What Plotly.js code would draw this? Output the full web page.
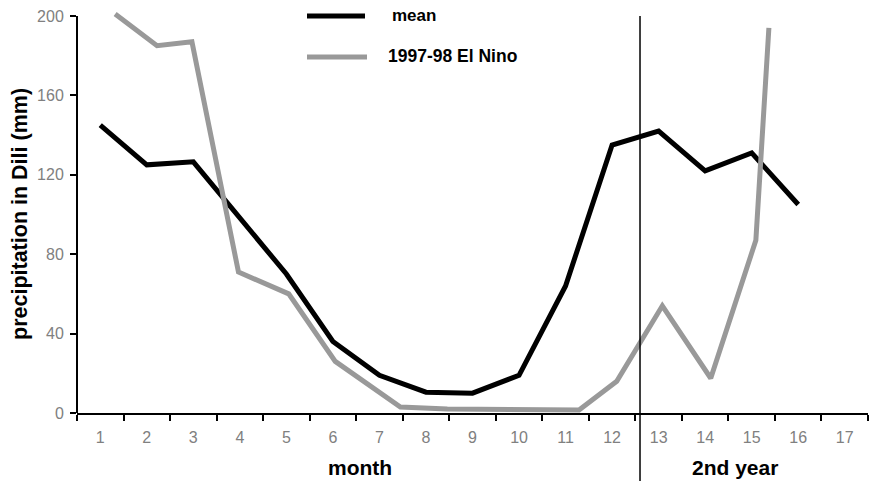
<!DOCTYPE html>
<html><head><meta charset="utf-8">
<script src="https://cdn.plot.ly/plotly-3.0.1.min.js"></script>
<style>html,body{margin:0;padding:0;background:#fff}#chart{width:870px;height:481px}</style>
</head><body><div id="chart"></div>
<script>
// ---- data ----
const monthTicks = [1,2,3,4,5,6,7,8,9,10,11,12,13,14,15,16,17];
const monthLabels = ['1','2','3','4','5','6','7','8','9','10','11','12','13','14','15','16','17'];
const meanMonths = [1,2,3,4,5,6,7,8,9,10,11,12,13,14,15,16];
const meanValues = [145,125,126.5,98.5,70,36,19,10.5,10,19,64,135,142,122,131,105];
const ninoMonths = [1.32,2.22,2.97,3.97,5.05,6.05,7.45,8.46,11.29,12.1,13.08,14.12,15.09,15.37];
const ninoValues = [201,185,187,71,60,26,3,2,1.5,16,54,17.5,87,194];
const seriesNames = ['mean','1997-98 El Nino'];
const yTicks = [0,40,80,120,160,200];
const sectionLabels = ['month','2nd year'];
const yearBreak = 12.6;
const yTitle = 'precipitation in Dili (mm)';

// ---- layout helpers ----
const W = 870, H = 481, L = 77, R = 2, T = 6, B = 68;
const pw = W - L - R, ph = H - T - B;
const px = v => (v - L) / pw;
const py = v => (H - B - v) / ph;
const boundaries = monthTicks.map(m => m - 0.5).concat([monthTicks[monthTicks.length-1] + 0.5]);
const yMax = 205;
const colors = ['#000000', '#999999'];
const boldFont = 'Liberation Sans, Arial, sans-serif';
const tickFont = {family: 'Liberation Sans Narrow, Arial Narrow, Liberation Sans, Arial, sans-serif', size: 16, color: '#808080'};

const traces = [
  {x: meanMonths, y: meanValues, name: seriesNames[0], type: 'scatter', mode: 'lines',
   line: {color: colors[0], width: 5}, showlegend: false},
  {x: ninoMonths, y: ninoValues, name: seriesNames[1], type: 'scatter', mode: 'lines',
   line: {color: colors[1], width: 5}, showlegend: false}
];

const layout = {
  width: W, height: H,
  margin: {l: L, r: R, t: T, b: B},
  paper_bgcolor: '#fff', plot_bgcolor: '#fff',
  showlegend: false,
  xaxis: {
    range: [boundaries[0], boundaries[boundaries.length-1]],
    tickmode: 'array', tickvals: monthTicks, ticktext: monthLabels,
    ticks: '', tickfont: tickFont, ticklabelstandoff: 9,
    minor: {tickmode: 'array', tickvals: boundaries, ticks: 'outside', ticklen: 6, tickwidth: 2, tickcolor: '#000', showgrid: false},
    showgrid: false, zeroline: false,
    showline: true, linecolor: '#000', linewidth: 2, fixedrange: true
  },
  yaxis: {
    range: [0, yMax],
    tickmode: 'array', tickvals: yTicks, ticktext: yTicks.map(String),
    ticks: 'outside', ticklen: 6, tickwidth: 2, tickcolor: '#000',
    tickfont: tickFont, ticklabelstandoff: 3,
    showgrid: false, zeroline: false, showline: false, fixedrange: true
  },
  shapes: [
    // y axis line up to 200
    {type: 'line', xref: 'paper', yref: 'y', x0: 0, x1: 0, y0: 0, y1: yTicks[yTicks.length-1],
     line: {color: '#000', width: 2}},
    // separator between year 1 and year 2
    {type: 'line', xref: 'x', yref: 'paper', x0: yearBreak, x1: yearBreak, y0: py(H), y1: yTicks[yTicks.length-1] / yMax,
     line: {color: '#000', width: 1.5}},
    // legend samples
    {type: 'line', xref: 'paper', yref: 'paper', x0: px(307), x1: px(365), y0: py(16), y1: py(16),
     line: {color: colors[0], width: 5}},
    {type: 'line', xref: 'paper', yref: 'paper', x0: px(307), x1: px(367), y0: py(57), y1: py(57),
     line: {color: colors[1], width: 5}}
  ],
  annotations: [
    {text: seriesNames[0], xref: 'paper', yref: 'paper', x: px(390), y: py(16), xanchor: 'left', yanchor: 'middle',
     showarrow: false, font: {family: boldFont, size: 17, color: '#000', weight: 'bold'}},
    {text: seriesNames[1], xref: 'paper', yref: 'paper', x: px(386), y: py(56), xanchor: 'left', yanchor: 'middle',
     showarrow: false, font: {family: boldFont, size: 17.5, color: '#000', weight: 'bold'}},
    {text: sectionLabels[0], xref: 'paper', yref: 'paper', x: px(360), y: py(467), xanchor: 'center', yanchor: 'middle',
     showarrow: false, font: {family: boldFont, size: 21, color: '#000', weight: 'bold'}},
    {text: sectionLabels[1], xref: 'paper', yref: 'paper', x: px(735), y: py(467), xanchor: 'center', yanchor: 'middle',
     showarrow: false, font: {family: boldFont, size: 21, color: '#000', weight: 'bold'}},
    {text: yTitle, xref: 'paper', yref: 'paper', x: px(20), y: py(214), xanchor: 'center', yanchor: 'middle',
     textangle: -90, showarrow: false, font: {family: boldFont, size: 21.5, color: '#000', weight: 'bold'}}
  ]
};

Plotly.newPlot('chart', traces, layout, {displayModeBar: false, staticPlot: true});
</script>
</body></html>
